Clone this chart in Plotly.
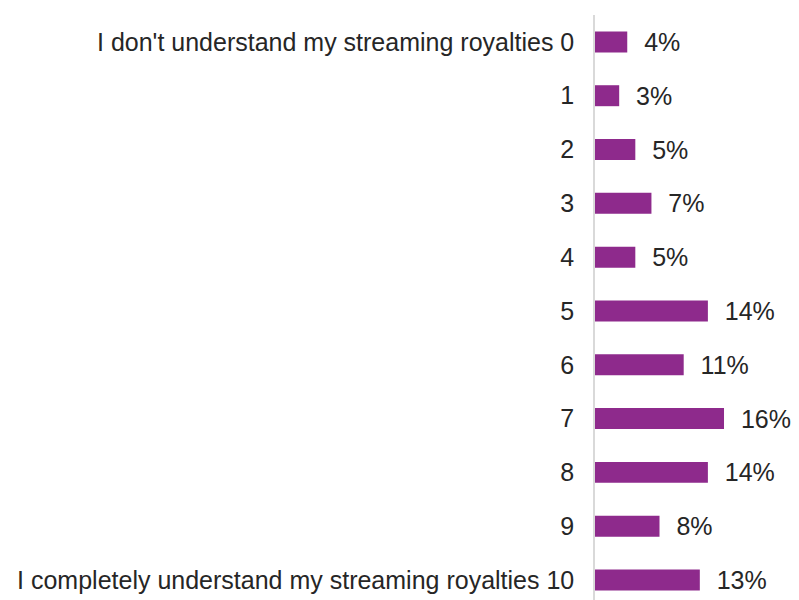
import plotly.graph_objects as go

# Self-rated understanding of streaming royalties (0-10 scale)
scale_points = [0, 1, 2, 3, 4, 5, 6, 7, 8, 9, 10]
tick_labels = [
    "I don't understand my streaming royalties 0",
    "1", "2", "3", "4", "5", "6", "7", "8", "9",
    "I completely understand my streaming royalties 10",
]
share_pct = [4, 3, 5, 7, 5, 14, 11, 16, 14, 8, 13]

FONT = "Liberation Sans, Arial"

fig = go.Figure(
    go.Bar(
        x=share_pct,
        y=scale_points,
        orientation="h",
        width=0.39,
        marker=dict(color="#8E2A8C", line=dict(width=0)),
        text=[f"{v}%" for v in share_pct],
        texttemplate="  %{text}",
        textposition="outside",
        constraintext="none",
        cliponaxis=False,
        textfont=dict(family=FONT, size=25, color="#262626"),
    )
)

fig.update_layout(
    width=799,
    height=600,
    margin=dict(l=595, r=0, t=15, b=0),
    paper_bgcolor="white",
    plot_bgcolor="white",
    showlegend=False,
)
fig.update_xaxes(
    range=[0, 25.3],
    showgrid=False,
    zeroline=False,
    showticklabels=False,
    showline=False,
)
fig.update_yaxes(
    tickmode="array",
    tickvals=scale_points,
    ticktext=tick_labels,
    range=[10.372, -0.5],
    showgrid=False,
    zeroline=False,
    showline=True,
    linecolor="#D9D9D9",
    linewidth=1.5,
    ticks="",
    ticklabelstandoff=14,
    tickfont=dict(family=FONT, size=25, color="#262626"),
)

fig.write_html("out.html")
